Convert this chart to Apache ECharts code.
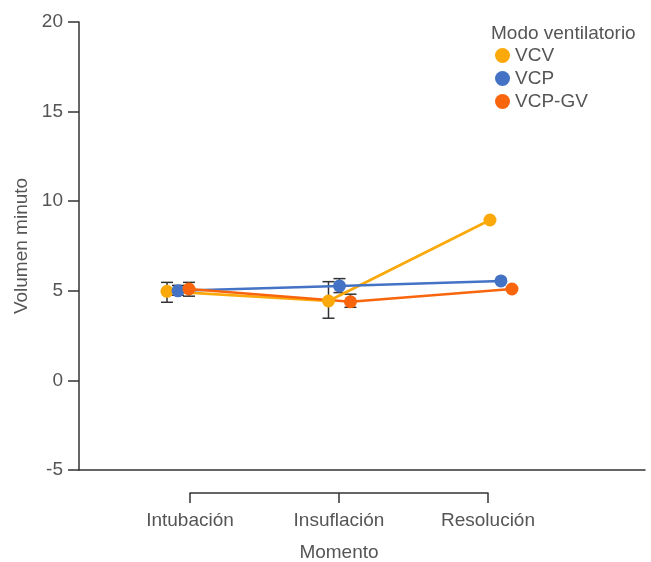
<!DOCTYPE html>
<html>
<head>
<meta charset="utf-8">
<script src="https://cdn.jsdelivr.net/npm/echarts@6/dist/echarts.min.js"></script>
<style>
  html, body { margin: 0; padding: 0; background: #fff; }
  #chart { width: 651px; height: 562px; }
</style>
</head>
<body>
<div id="chart"></div>
<script>
// momentos y series
const momentos = ['Intubación', 'Insuflación', 'Resolución']
const seriesNames = ['VCV', 'VCP', 'VCP-GV']
const colors = ['#FBA90A', '#4472C4', '#F9650C']

const vcv = [4.97, 4.43, 8.95]
const vcp = [5.0, 5.27, 5.55]
const vcpgv = [5.1, 4.39, 5.1]

// intervalos (bajo / alto), null = sin barra visible
const vcvLow = [4.36, 3.47, null]
const vcvHigh = [5.47, 5.51, null]
const vcpLow = [4.75, 4.9, null]
const vcpHigh = [5.3, 5.68, null]
const vcpgvLow = [4.7, 4.08, null]
const vcpgvHigh = [5.47, 4.81, null]

const yTicks = [-5, 0, 5, 10, 15, 20]

const values = [vcv, vcp, vcpgv]
const lows = [vcvLow, vcpLow, vcpgvLow]
const highs = [vcvHigh, vcpHigh, vcpgvHigh]
const dodge = [-0.068, 0, 0.068]

const font = 'Liberation Sans, Arial, sans-serif'
const textColor = '#555'
const axisColor = '#333'

const chart = echarts.init(document.getElementById('chart'))

const lineSeries = seriesNames.map((name, s) => ({
  name,
  type: 'line',
  xAxisIndex: 0,
  yAxisIndex: 0,
  data: values[s].map((v, i) => [i + 1 + dodge[s], v]),
  symbol: 'circle',
  symbolSize: 13,
  z: 3,
  lineStyle: { width: 2.6, color: colors[s] },
  itemStyle: { color: colors[s] },
}))

const errorSeries = seriesNames.map((name, s) => ({
  name: name + '-err',
  type: 'custom',
  xAxisIndex: 0,
  yAxisIndex: 0,
  z: 2,
  silent: true,
  data: lows[s].map((lo, i) => [i + 1 + dodge[s], lo, highs[s][i]]).filter((d) => d[1] !== null),
  renderItem: (params, api) => {
    const x = api.value(0)
    const lo = api.coord([x, api.value(1)])
    const hi = api.coord([x, api.value(2)])
    const w = 6
    const style = { stroke: axisColor, lineWidth: 1.5 }
    return {
      type: 'group',
      children: [
        { type: 'line', shape: { x1: lo[0], y1: lo[1], x2: hi[0], y2: hi[1] }, style },
        { type: 'line', shape: { x1: lo[0] - w, y1: lo[1], x2: lo[0] + w, y2: lo[1] }, style },
        { type: 'line', shape: { x1: hi[0] - w, y1: hi[1], x2: hi[0] + w, y2: hi[1] }, style },
      ],
    }
  },
}))

chart.setOption({
  backgroundColor: '#fff',
  animation: false,
  textStyle: { fontFamily: font },
  title: {
    text: 'Modo ventilatorio',
    left: 486,
    top: 19,
    textStyle: { fontFamily: font, fontSize: 19, fontWeight: 'normal', color: textColor },
  },
  legend: {
    data: seriesNames,
    orient: 'vertical',
    left: 490,
    top: 41,
    itemWidth: 15,
    itemHeight: 15,
    itemGap: 4,
    icon: 'circle',
    textStyle: { fontFamily: font, fontSize: 19, color: textColor, lineHeight: 19 },
  },
  grid: [
    { left: 79, top: 22, width: 566, height: 448, outerBoundsMode: 'none' },
    { left: 190, top: 22, width: 298, height: 448, outerBoundsMode: 'none' },
  ],
  xAxis: [
    {
      type: 'value',
      gridIndex: 0,
      min: 0.387,
      max: 3.892,
      axisLine: { show: true, onZero: false, lineStyle: { color: axisColor, width: 1.5 } },
      axisTick: { show: false },
      axisLabel: { show: false },
      splitLine: { show: false },
    },
    {
      type: 'category',
      gridIndex: 1,
      data: momentos,
      boundaryGap: false,
      position: 'bottom',
      offset: 23,
      name: 'Momento',
      nameLocation: 'middle',
      nameGap: 50,
      nameTextStyle: { fontFamily: font, fontSize: 19, color: textColor },
      axisLine: { show: true, onZero: false, lineStyle: { color: axisColor, width: 1.5 } },
      axisTick: { show: true, length: 10, lineStyle: { color: axisColor, width: 1.5 } },
      axisLabel: { fontFamily: font, fontSize: 19, color: textColor, margin: 18 },
    },
  ],
  yAxis: [
    {
      type: 'value',
      gridIndex: 0,
      min: yTicks[0],
      max: yTicks[yTicks.length - 1],
      interval: 5,
      name: 'Volumen minuto',
      nameLocation: 'middle',
      nameGap: 48,
      nameTextStyle: { fontFamily: font, fontSize: 19, color: textColor },
      axisLine: { show: true, onZero: false, lineStyle: { color: axisColor, width: 1.5 } },
      axisTick: { show: true, length: 11, lineStyle: { color: axisColor, width: 1.5 } },
      axisLabel: { fontFamily: font, fontSize: 19, color: textColor, margin: 16 },
      splitLine: { show: false },
    },
    { type: 'value', gridIndex: 1, show: false },
  ],
  series: [...errorSeries, ...lineSeries],
})
</script>
</body>
</html>
